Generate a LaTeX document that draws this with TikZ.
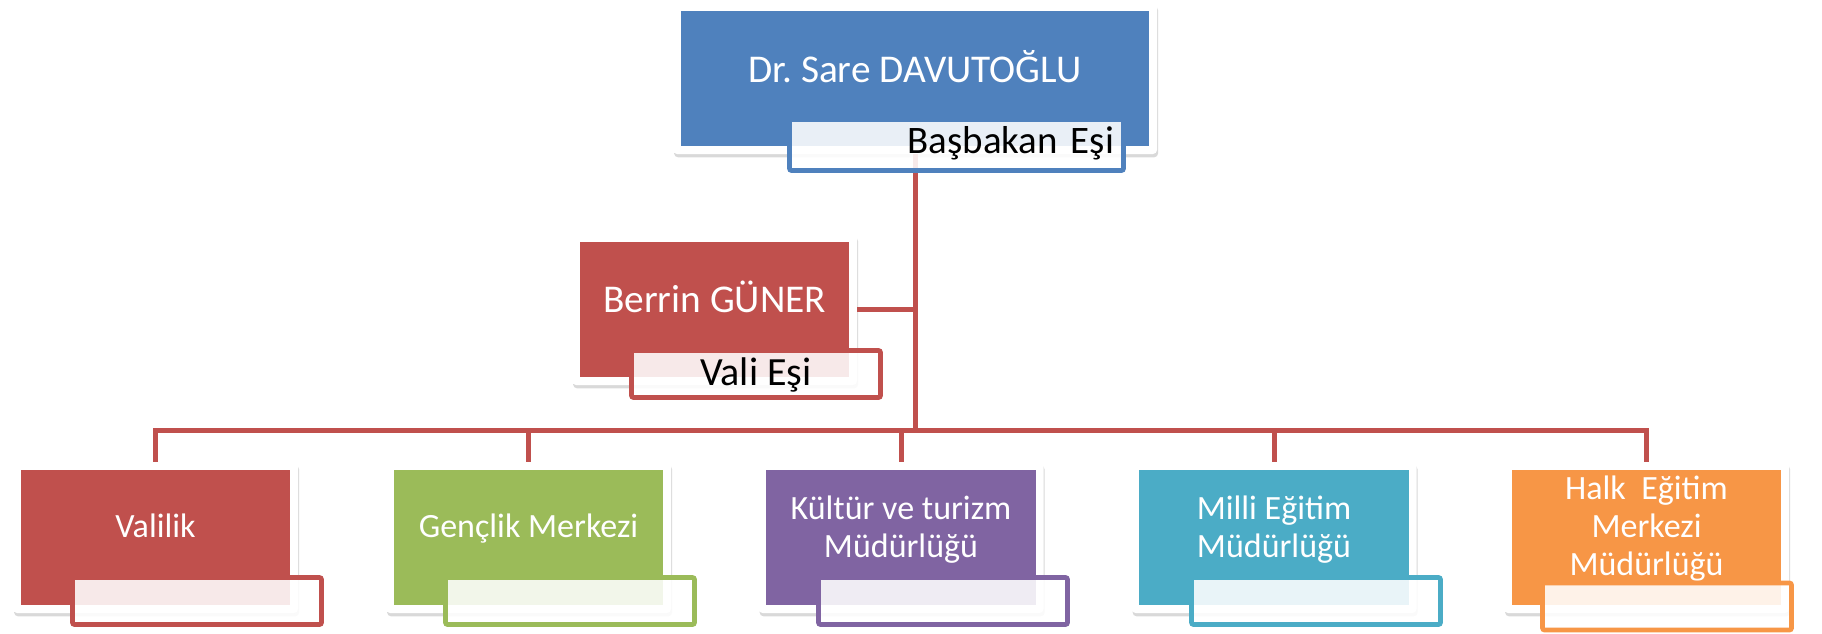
\documentclass[tikz,border=0pt]{standalone}
\usepackage{fontspec}
\setmainfont{Carlito}
\usetikzlibrary{shadows}
\definecolor{cblue}{HTML}{4F81BD}
\definecolor{cred}{HTML}{C0504D}
\definecolor{cgreen}{HTML}{9BBB59}
\definecolor{cpurple}{HTML}{8064A2}
\definecolor{caqua}{HTML}{4BACC6}
\definecolor{corange}{HTML}{F79646}
\frenchspacing
\begin{document}
\begin{tikzpicture}[x=0.75pt,y=-0.75pt,
  box/.style={fill=white, rounded corners=3pt, minimum width=213.75pt, minimum height=113.25pt,
    inner sep=0pt, text=white, align=center,
    drop shadow={shadow xshift=0.8pt, shadow yshift=-2.5pt, opacity=0.3},
    path picture={\fill[#1, sharp corners]
      ([xshift=5.8pt,yshift=-5.8pt]path picture bounding box.north west) rectangle
      ([xshift=-5.8pt,yshift=5.8pt]path picture bounding box.south east);}},
  lab/.style={draw=#1, fill=white, fill opacity=0.88, text opacity=1, line width=3.5pt,
    rounded corners=1.5pt, minimum width=186.75pt, minimum height=35.25pt, inner sep=0pt, text=black},
  conn/.style={draw=cred, line width=3.75pt},
  bfont/.style={font=\fontsize{25.5}{28.3}\selectfont},
]
\useasboundingbox (0,0) rectangle (1822,633);

% boxes
\node[box=cblue, minimum width=363pt, font=\fontsize{29.5}{32}\selectfont,
      text height=10pt, text depth=4.75pt] (top) at (915,78.5) {Dr. Sare DAVUTOĞLU};
\node[box=cred, font=\fontsize{29.5}{32}\selectfont,
      text height=10pt, text depth=6.25pt] (berrin) at (714.5,309.5) {Berrin GÜNER};
\node[box=cred, bfont, text height=10pt, text depth=10pt] (v1) at (155.5,537.5) {Valilik};
\node[box=cgreen, bfont, text height=10pt, text depth=10pt] (v2) at (528.5,537.5) {Gençlik Merkezi};
\node[box=cpurple, bfont, text height=39.25pt, text depth=10pt] (v3) at (901,537.5) {Kültür ve turizm\\Müdürlüğü};
\node[box=caqua, bfont, text height=39.25pt, text depth=10pt] (v4) at (1274,537.5) {Milli Eğitim\\Müdürlüğü};
\node[box=corange, bfont, text height=66.25pt, text depth=10pt] (v5) at (1646.5,537.5) {Halk\ \ Eğitim\\Merkezi\\Müdürlüğü};

% connectors
\coordinate (bar) at (915,430);
\draw[conn] (top.south) -- (bar);
\draw[conn] (berrin.east) -- (berrin.east -| bar);
\draw[conn] (v1.north) |- (bar) -| (v5.north);
\foreach \n in {v2,v3,v4} \draw[conn] (\n.north) -- (\n.north |- bar);

% labels
\node[lab=cblue, minimum width=250.5pt, minimum height=38.25pt, font=\fontsize{29.2}{32}\selectfont,
      text width=236.25pt, align=right, text height=14pt, text depth=2pt] (toplab) at (956.5,145) {Başbakan Eşi};
\node[lab=cred, font=\fontsize{30}{32}\selectfont, text height=18pt, text depth=1.5pt] (berlab) at (756,374) {Vali Eşi};
\node[lab=cred] (l1) at (197,601) {};
\node[lab=cgreen] (l2) at (570,601) {};
\node[lab=cpurple] (l3) at (943,601) {};
\node[lab=caqua] (l4) at (1316,601) {};
\node[lab=corange] (l5) at (1667,606.5) {};
\end{tikzpicture}
\end{document}
